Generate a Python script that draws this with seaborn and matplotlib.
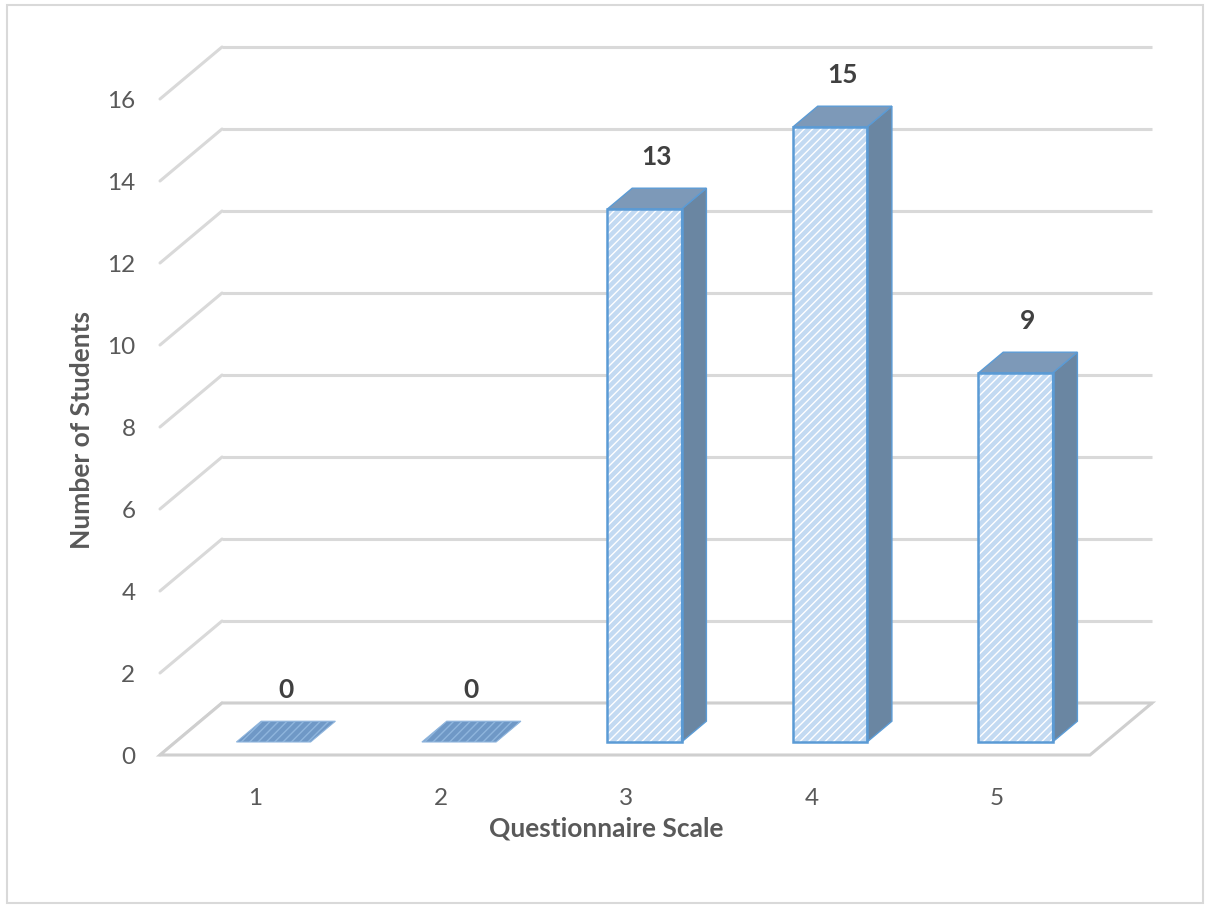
import matplotlib
matplotlib.use("Agg")
import matplotlib.pyplot as plt
import seaborn as sns
import pandas as pd
from matplotlib.patches import Polygon, Rectangle

# ---- data ----
categories = ["1", "2", "3", "4", "5"]
students = [0, 0, 13, 15, 9]
ytick_values = [0, 2, 4, 6, 8, 10, 12, 14, 16]
x_title = "Questionnaire Scale"
y_title = "Number of Students"

# ---- style ----
sns.set_theme(style="white")
plt.rcParams['font.family'] = ['Lato', 'DejaVu Sans']
plt.rcParams['hatch.linewidth'] = 1.0

FRONT = "#c3daf2"
EDGE = "#5b9bd5"
SIDE = "#6a86a2"
TOP = "#7d99b8"
ZERO_TOP = "#6f98c6"
GRID = "#d9d9d9"
TXT = "#595959"
LBL = "#404040"

W, H = 1206, 906
fig = plt.figure(figsize=(W / 100, H / 100), dpi=100)
fig.patch.set_facecolor("white")

# layout (pixels)
PX_PER_CAT = 185.5
PX_PER_UNIT = 41.0
X0 = 273.5
Y0 = 742.0
ax_l, ax_r, ax_t, ax_b = 148, 1180, 20, 782
ax = fig.add_axes([ax_l / W, 1 - ax_b / H, (ax_r - ax_l) / W, (ax_b - ax_t) / H])

df = pd.DataFrame({"scale": categories, "students": students})
sns.barplot(data=df, x="scale", y="students", color=FRONT, saturation=1,
            width=0.4, edgecolor="white", linewidth=0, hatch="////",
            ax=ax, zorder=3)

xlim = ((ax_l - X0) / PX_PER_CAT, (ax_r - X0) / PX_PER_CAT)
ylim = ((Y0 - ax_b) / PX_PER_UNIT, (Y0 - ax_t) / PX_PER_UNIT)
ax.set_xlim(*xlim)
ax.set_ylim(*ylim)

# depth (oblique projection)
DX = 62 / PX_PER_CAT
DY = 52 / PX_PER_UNIT
FRONT_D = 0.25   # bar front plane depth fraction
BAR_D = 0.40     # bar depth fraction

front_left = (160 - X0) / PX_PER_CAT
front_right = (1090 - X0) / PX_PER_CAT
back_left = front_left + DX
back_right = front_right + DX
y_front = -FRONT_D * DY
y_back = (1 - FRONT_D) * DY

bars = [p for p in ax.patches if isinstance(p, Rectangle)]

# floor
floor = Polygon([(front_left, y_front), (front_right, y_front),
                 (back_right, y_back), (back_left, y_back)],
                closed=True, facecolor="white", edgecolor="#cfcfcf",
                lw=2.2, zorder=1.5)
ax.add_patch(floor)

# walls gridlines
for v in ytick_values:
    ax.plot([back_left, back_right], [v + y_back, v + y_back],
            color=GRID, lw=2.2, zorder=1, solid_capstyle="butt")
    ax.plot([front_left, back_left], [v + y_front, v + y_back],
            color=GRID, lw=2.2, zorder=1)

# 3D faces
bdx = BAR_D * DX
bdy = BAR_D * DY
for p, val in zip(bars, students):
    x = p.get_x()
    w = p.get_width()
    h = p.get_height()
    if h > 0:
        side = Polygon([(x + w, 0), (x + w + bdx, bdy), (x + w + bdx, h + bdy), (x + w, h)],
                       closed=True, facecolor=SIDE, edgecolor=EDGE, lw=1.0, zorder=3.5)
        ax.add_patch(side)
        top = Polygon([(x, h), (x + w, h), (x + w + bdx, h + bdy), (x + bdx, h + bdy)],
                      closed=True, facecolor=TOP, edgecolor=EDGE, lw=1.0, zorder=4)
        ax.add_patch(top)
        ax.add_patch(Rectangle((x, 0), w, h, fill=False, edgecolor=EDGE,
                               lw=1.8, zorder=4.5))
    else:
        top = Polygon([(x, h), (x + w, h), (x + w + bdx, h + bdy), (x + bdx, h + bdy)],
                      closed=True, facecolor=ZERO_TOP, edgecolor="#8fb5dd",
                      hatch="////", lw=0.8, zorder=4)
        ax.add_patch(top)
    ax.text(x + w / 2 + bdx / 2, h + bdy + 0.75, f"{val}", ha="center",
            va="center", fontsize=19, fontweight="bold", color=LBL, zorder=6)

# ticks
for s in ax.spines.values():
    s.set_visible(False)
ax.set_yticks([v + y_front for v in ytick_values])
ax.set_yticklabels([str(v) for v in ytick_values])
ax.set_xticks([i - 0.1 for i in range(len(categories))])
ax.set_xticklabels(categories)
ax.tick_params(axis="y", length=0, pad=9, labelsize=17.5, labelcolor=TXT)
ax.tick_params(axis="x", length=0, pad=4, labelsize=17.5, labelcolor=TXT)

ax.set_xlabel(x_title, fontsize=19, fontweight="bold", color=TXT)
ax.set_ylabel(y_title, fontsize=19, fontweight="bold", color=TXT)
ax.xaxis.set_label_coords((606 - ax_l) / (ax_r - ax_l), (ax_b - 816) / (ax_b - ax_t))
ax.yaxis.set_label_coords((94 - ax_l) / (ax_r - ax_l), (ax_b - 430) / (ax_b - ax_t))
ax.set_facecolor("none")

# outer border
fig.patches.append(Rectangle((7 / W, 3 / H), 1196 / W, 898 / H, transform=fig.transFigure,
                             fill=False, edgecolor="#d9d9d9", lw=1.5))

fig.savefig("out.png", dpi=100)
